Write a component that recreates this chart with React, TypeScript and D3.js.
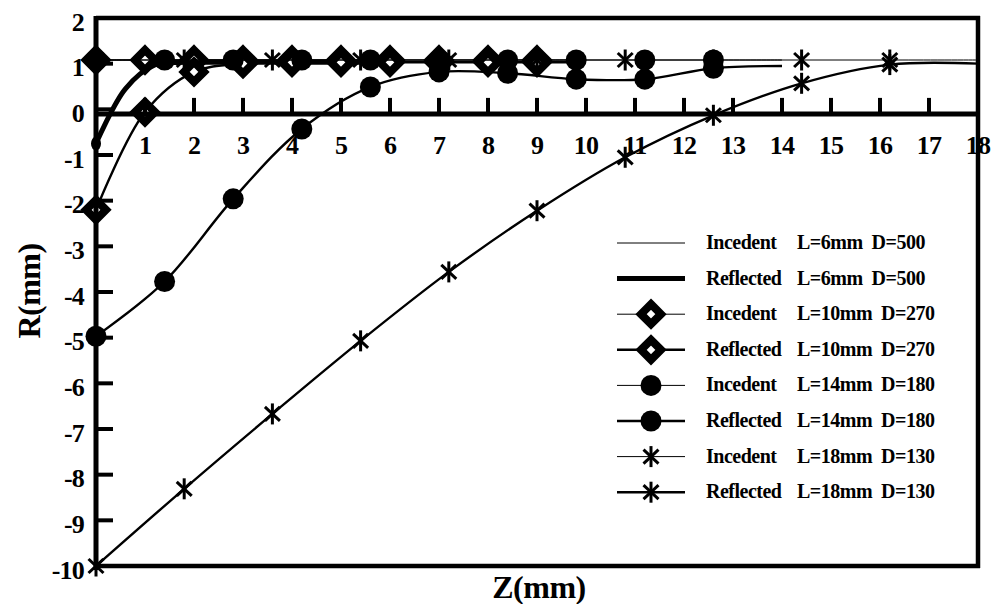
import React from 'react';
import * as d3 from 'd3';

const W = 995;
const H = 604;

// axis ticks
const xTickValues = [0, 1, 2, 3, 4, 5, 6, 7, 8, 9, 10, 11, 12, 13, 14, 15, 16, 17, 18];
const yTickValues = [2, 1, 0, -1, -2, -3, -4, -5, -6, -7, -8, -9, -10];
const AXIS_CROSS = -0.1;

// L = 6 mm, D = 500
const l6Z = [0, 0.6, 1.2, 1.8, 2.4, 3.0, 3.6, 4.2, 4.8, 5.4, 6.0];
const l6Incident = [1.08, 1.08, 1.08, 1.08, 1.08, 1.08, 1.08, 1.08, 1.08, 1.08, 1.08];
const l6Reflected = [-0.75, 0.45, 0.97, 1.03, 1.03, 1.03, 1.03, 1.03, 1.03, 1.03, 1.03];

// L = 10 mm, D = 270
const l10Z = [0, 1, 2, 3, 4, 5, 6, 7, 8, 9, 10];
const l10Incident = [1.08, 1.08, 1.08, 1.08, 1.08, 1.08, 1.08, 1.08, 1.08, 1.08, 1.08];
const l10Reflected = [-2.2, -0.06, 0.82, 1.0, 1.03, 1.03, 1.03, 1.03, 1.03, 1.03, 1.03];

// L = 14 mm, D = 180
const l14Z = [0, 1.4, 2.8, 4.2, 5.6, 7.0, 8.4, 9.8, 11.2, 12.6, 14.0];
const l14Incident = [1.08, 1.08, 1.08, 1.08, 1.08, 1.08, 1.08, 1.08, 1.08, 1.08, 1.08];
const l14Reflected = [-4.97, -3.77, -1.96, -0.43, 0.49, 0.82, 0.79, 0.66, 0.66, 0.9, 0.95];

// L = 18 mm, D = 130
const l18Z = [0, 1.8, 3.6, 5.4, 7.2, 9.0, 10.8, 12.6, 14.4, 16.2, 18.0];
const l18Incident = [1.08, 1.08, 1.08, 1.08, 1.08, 1.08, 1.08, 1.08, 1.08, 1.08, 1.08];
const l18Reflected = [-10, -8.31, -6.67, -5.07, -3.56, -2.22, -1.05, -0.13, 0.57, 0.98, 1.0];

const legendKinds = ['Incedent', 'Reflected', 'Incedent', 'Reflected', 'Incedent', 'Reflected', 'Incedent', 'Reflected'];
const legendParams = ['L=6mm  D=500', 'L=6mm  D=500', 'L=10mm  D=270', 'L=10mm  D=270', 'L=14mm  D=180', 'L=14mm  D=180', 'L=18mm  D=130', 'L=18mm  D=130'];

type Marker = 'none' | 'diamond' | 'circle' | 'star' | 'dot';
interface Series {
  z: number[];
  r: number[];
  width: number;
  marker: Marker;
  markerCount: number;
}

const series: Series[] = [
  { z: l6Z, r: l6Incident, width: 1, marker: 'none', markerCount: 0 },
  { z: l6Z, r: l6Reflected, width: 5, marker: 'dot', markerCount: 1 },
  { z: l10Z, r: l10Incident, width: 1, marker: 'diamond', markerCount: 10 },
  { z: l10Z, r: l10Reflected, width: 2.4, marker: 'diamond', markerCount: 10 },
  { z: l14Z, r: l14Incident, width: 1, marker: 'circle', markerCount: 10 },
  { z: l14Z, r: l14Reflected, width: 2.4, marker: 'circle', markerCount: 10 },
  { z: l18Z, r: l18Incident, width: 1, marker: 'star', markerCount: 10 },
  { z: l18Z, r: l18Reflected, width: 2.4, marker: 'star', markerCount: 10 },
];

const FONT = "'Liberation Serif', 'Times New Roman', Times, serif";
const textStyle: React.CSSProperties = { fontFamily: FONT, fontWeight: 700 };

const x = d3.scaleLinear().domain([0, 18]).range([96, 978]);
const y = d3.scaleLinear().domain([-10, 2]).range([566, 18]);

function MarkerShape({ kind, cx, cy }: { kind: Marker; cx: number; cy: number }) {
  if (kind === 'circle') return <circle cx={cx} cy={cy} r={10.5} fill="#000" />;
  if (kind === 'dot') return <ellipse cx={cx} cy={cy} rx={5} ry={7} fill="#000" />;
  if (kind === 'diamond') {
    const s = 10;
    return (
      <path
        d={`M${cx},${cy - s}L${cx + s},${cy}L${cx},${cy + s}L${cx - s},${cy}Z`}
        fill="#fff"
        stroke="#000"
        strokeWidth={8}
        strokeLinejoin="miter"
      />
    );
  }
  if (kind === 'star') {
    return (
      <g stroke="#000" strokeWidth={3}>
        <line x1={cx} y1={cy - 10.5} x2={cx} y2={cy + 10.5} />
        <line x1={cx - 7.5} y1={cy - 7} x2={cx + 7.5} y2={cy + 7} />
        <line x1={cx - 7.5} y1={cy + 7} x2={cx + 7.5} y2={cy - 7} />
      </g>
    );
  }
  return null;
}

export default function App() {
  const line = d3
    .line<[number, number]>()
    .x((d) => x(d[0]))
    .y((d) => y(d[1]))
    .curve(d3.curveCatmullRom.alpha(0.5));

  const axisY = y(AXIS_CROSS);
  const legendRowY = (i: number) => 243 + i * 35.6;

  return (
    <svg width={W} height={H} style={{ position: 'absolute', left: 0, top: 0, background: '#fff' }}>
      <rect x={0} y={0} width={W} height={H} fill="#fff" />

      {/* y tick labels */}
      {yTickValues.map((v) => (
        <text
          key={'yl' + v}
          x={84}
          y={y(v) + 4}
          textAnchor="end"
          dominantBaseline="central"
          style={{ ...textStyle, fontSize: 26, letterSpacing: -0.8 }}
        >
          {v}
        </text>
      ))}

      {/* x tick labels */}
      {xTickValues.filter((v) => v > 0).map((v) => (
        <text
          key={'xl' + v}
          x={x(v)}
          y={154}
          textAnchor="middle"
          style={{ ...textStyle, fontSize: 26, letterSpacing: -0.8 }}
        >
          {v}
        </text>
      ))}

      {/* series */}
      {series.map((s, i) => {
        const pts: [number, number][] = s.z.map((z, k) => [z, s.r[k]]);
        return (
          <g key={'s' + i}>
            <path d={line(pts) || ''} fill="none" stroke="#000" strokeWidth={s.width} />
            {pts.slice(0, s.markerCount).map((p, k) => (
              <MarkerShape key={k} kind={s.marker} cx={x(p[0])} cy={y(p[1])} />
            ))}
          </g>
        );
      })}

      {/* frame */}
      <line x1={96} y1={18} x2={980} y2={18} stroke="#000" strokeWidth={4.5} />
      <line x1={978} y1={16} x2={978} y2={568} stroke="#000" strokeWidth={4.5} />
      <line x1={94} y1={566} x2={980} y2={566} stroke="#000" strokeWidth={4.5} />
      <line x1={96} y1={16} x2={96} y2={570} stroke="#000" strokeWidth={5} />
      <line x1={94} y1={axisY} x2={980} y2={axisY} stroke="#000" strokeWidth={5} />

      {/* y ticks (inside) */}
      {yTickValues.map((v) => (
        <line key={'yt' + v} x1={96} y1={y(v)} x2={113} y2={y(v)} stroke="#000" strokeWidth={4} />
      ))}
      {/* x ticks (inside, upward) */}
      {xTickValues.filter((v) => v > 0 && v < 18).map((v) => (
        <line key={'xt' + v} x1={x(v)} y1={axisY} x2={x(v)} y2={axisY - 16} stroke="#000" strokeWidth={4} />
      ))}

      {/* axis titles */}
      <text x={539} y={598} textAnchor="middle" style={{ ...textStyle, fontSize: 32, letterSpacing: -0.5 }}>
        Z(mm)
      </text>
      <text
        transform="translate(40,291) rotate(-90)"
        textAnchor="middle"
        style={{ ...textStyle, fontSize: 32, letterSpacing: -0.5 }}
      >
        R(mm)
      </text>

      {/* legend */}
      {series.map((s, i) => {
        const ly = legendRowY(i);
        return (
          <g key={'lg' + i}>
            <line x1={617} y1={ly} x2={685} y2={ly} stroke="#000" strokeWidth={s.width} />
            {s.marker !== 'dot' && <MarkerShape kind={s.marker} cx={651} cy={ly} />}
            <text x={706} y={ly + 6} style={{ ...textStyle, fontSize: 20, letterSpacing: -0.5 }}>
              {legendKinds[i]}
            </text>
            <text x={797} y={ly + 6} style={{ ...textStyle, fontSize: 20, letterSpacing: -0.5, whiteSpace: 'pre' }}>
              {legendParams[i]}
            </text>
          </g>
        );
      })}
    </svg>
  );
}
